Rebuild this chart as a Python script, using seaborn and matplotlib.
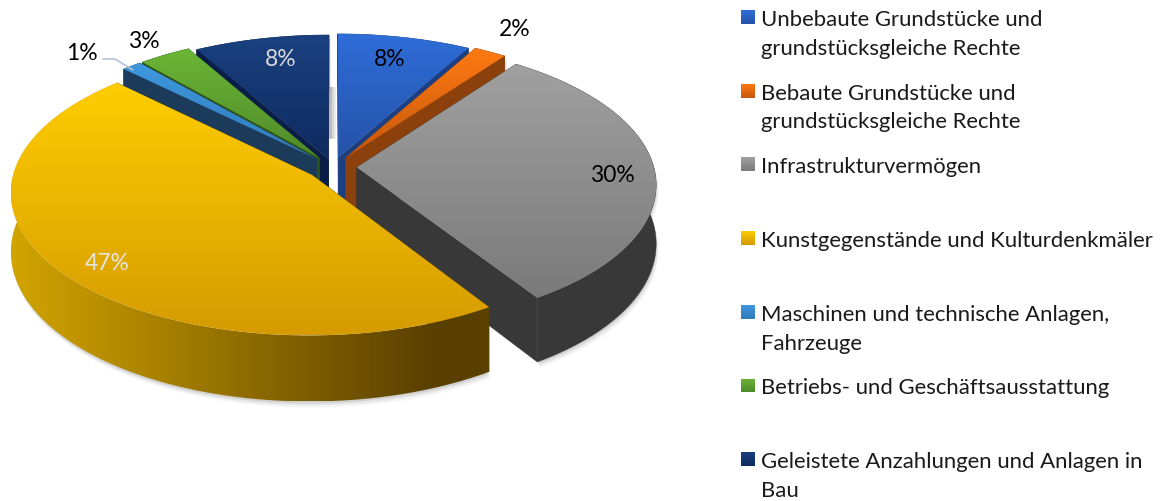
import numpy as np
import matplotlib
matplotlib.use('Agg')
import matplotlib.pyplot as plt
from matplotlib.patches import Polygon
import seaborn as sns

# shares of the fixed assets, clockwise from twelve o'clock
categories = ['Unbebaute Grundstücke und\ngrundstücksgleiche Rechte',
              'Bebaute Grundstücke und\ngrundstücksgleiche Rechte',
              'Infrastrukturvermögen',
              'Kunstgegenstände und Kulturdenkmäler',
              'Maschinen und technische Anlagen,\nFahrzeuge',
              'Betriebs- und Geschäftsausstattung',
              'Geleistete Anzahlungen und Anlagen in\nBau']
values = [8.1, 2.0, 30.8, 46.5, 1.2, 3.2, 8.2]
pct_labels = ['8%', '2%', '30%', '47%', '1%', '3%', '8%']

# top colour, bottom colour, wall colour
top_light = ['#2F6DD8', '#FF7A12', '#A0A0A0', '#FFCD00', '#3F98DE', '#6BB636', '#1A417F']
top_dark = ['#2552A8', '#C4570C', '#7A7A7A', '#D59B00', '#2F7ABA', '#4F8A2A', '#0F2A60']
walls = ['#1B3F82', '#8C410C', '#383838', '#5A4000', '#1C3B5A', '#2E5518', '#0A1E48']

label_xy = [(390, 60), (515, 30), (612, 176), (107, 264), (82, 54), (144, 41), (281, 59)]
label_col = ['black', 'black', 'black', '#E4E4E4', 'black', 'black', '#D9D9D9']
explode = [0.07, 0.08, 0.08, 0.09, 0.08, 0.08, 0.06]

CX, CY = 333, 168
RX, RY = 297, 140
PERSP = 0.115
DEPTH = 58

sns.set_theme(style='white')
plt.rcParams['font.family'] = ['Lato', 'DejaVu Sans']

fig = plt.figure(figsize=(11.64, 5.02), dpi=100)
ax = fig.add_axes([0, 0, 1, 1])


def project(u, v, z=0.0):
    s = 1 / (1 + PERSP * v)
    return np.column_stack([CX + RX * u * s, CY - RY * v * s + DEPTH * z * s])


def gradient(pts, c0, c1, vertical=True, stop=None, zorder=1):
    # paint a two colour ramp and clip it to the polygon
    cmap = sns.blend_palette([c0, c1], 64, as_cmap=True)
    x0, y0 = pts.min(axis=0)
    x1, y1 = pts.max(axis=0)
    ramp = np.linspace(0, 1, 256)
    if stop is not None:
        ramp = np.clip(ramp / stop, 0, 1)
    ramp = ramp[:, None] if vertical else ramp[None, :]
    im = ax.imshow(ramp, cmap=cmap, extent=(x0, x1, y1, y0), aspect='auto',
                   origin='upper', zorder=zorder, interpolation='bilinear')
    patch = Polygon(pts, closed=True, transform=ax.transData, fc='none', ec='none')
    ax.add_patch(patch)
    im.set_clip_path(patch)


fracs = np.cumsum([0] + values) / sum(values) * 2 * np.pi
mids = (fracs[:-1] + fracs[1:]) / 2
order = np.argsort(-np.cos(mids))

z = 1
for i in order:
    a0, a1, mid = fracs[i], fracs[i + 1], mids[i]
    t = np.linspace(a0, a1, 90)
    ou = explode[i] * np.sin(mid)
    ov = explode[i] * np.cos(mid)
    u = ou + np.sin(t)
    v = ov + np.cos(t)
    rim = project(u, v)
    rim_low = project(u, v, 1)
    apex = project(np.array([ou]), np.array([ov]))
    apex_low = project(np.array([ou]), np.array([ov]), 1)

    # soft shadow under the slab
    body = np.vstack([apex_low, rim_low, rim[::-1]])
    for d, a in [(6, 0.05), (4, 0.08), (2, 0.12)]:
        ax.add_patch(Polygon(body + [d * 0.4, d], fc='#404040', ec='none', alpha=a, zorder=z))
    if i == 6:
        # shadow that shows in the gap at twelve o'clock
        for d, a in [(7, 0.12), (5, 0.15), (3, 0.2)]:
            ax.add_patch(Polygon(body + [d, 52], fc='#606060', ec='none', alpha=a, zorder=z))
    z += 1

    # radial faces
    for edge, edge_low in [(rim[0], rim_low[0]), (rim[-1], rim_low[-1])]:
        face = np.vstack([apex, edge, edge_low, apex_low])
        ax.add_patch(Polygon(face, fc=walls[i], ec=walls[i], lw=0.3, zorder=z))
    z += 1

    # outer wall
    wall = np.vstack([rim, rim_low[::-1]])
    if i == 3:
        gradient(wall, '#D2A400', '#5A4000', vertical=False, stop=0.88, zorder=z)
    else:
        ax.add_patch(Polygon(wall, fc=walls[i], ec=walls[i], lw=0.3, zorder=z))
    z += 1

    # top face
    top = np.vstack([apex, rim])
    gradient(top, top_light[i], top_dark[i], zorder=z)
    z += 1

# data labels
for txt, (x, y), col in zip(pct_labels, label_xy, label_col):
    ax.text(x, y, txt, fontsize=16.5, color=col, ha='center', va='center', zorder=z)

# leader line of the 1% label
ax.plot([103, 115, 133], [60, 60, 71], color='#B4C2D8', lw=1.2, zorder=z)

# legend, one row every 73.7 px
for i, name in enumerate(categories):
    row = 18 + i * 73.7
    sq = np.array([[741, row - 7], [755, row - 7], [755, row + 7], [741, row + 7]])
    gradient(sq, top_light[i], top_dark[i], zorder=z)
    ax.text(761, row - 8, name, fontsize=15.9, color='#1A1A1A', ha='left', va='top',
            linespacing=1.55, zorder=z)

ax.set_xlim(0, 1164)
ax.set_ylim(502, 0)
ax.axis('off')
fig.savefig('out.png', dpi=100, facecolor='white')
